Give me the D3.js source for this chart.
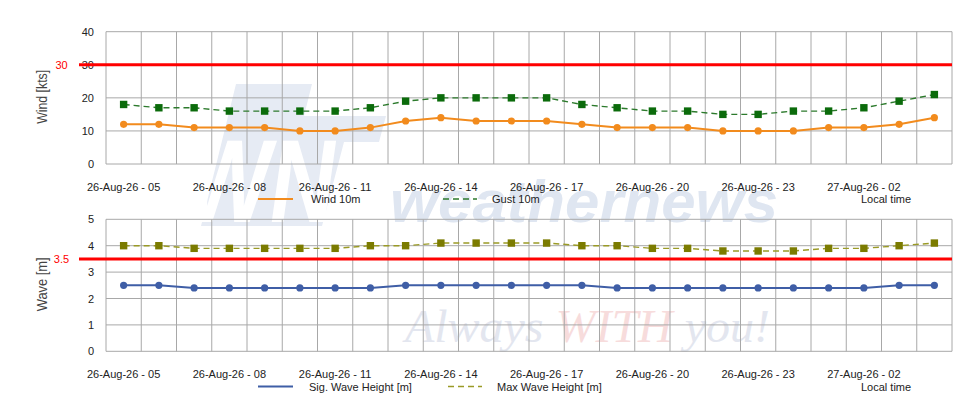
<!DOCTYPE html>
<html>
<head>
<meta charset="utf-8">
<script src="https://cdn.jsdelivr.net/npm/d3@7"></script>
<style>
  body { margin: 0; background: #fff; }
  svg { display: block; font-family: "Liberation Sans", Arial, sans-serif; }
</style>
</head>
<body>
<div id="chart"></div>
<script>
// time axis
var times = ["26-Aug-26 - 05", "26-Aug-26 - 06", "26-Aug-26 - 07", "26-Aug-26 - 08", "26-Aug-26 - 09", "26-Aug-26 - 10",
    "26-Aug-26 - 11", "26-Aug-26 - 12", "26-Aug-26 - 13", "26-Aug-26 - 14", "26-Aug-26 - 15", "26-Aug-26 - 16",
    "26-Aug-26 - 17", "26-Aug-26 - 18", "26-Aug-26 - 19", "26-Aug-26 - 20", "26-Aug-26 - 21", "26-Aug-26 - 22",
    "26-Aug-26 - 23", "27-Aug-26 - 00", "27-Aug-26 - 01", "27-Aug-26 - 02", "27-Aug-26 - 03", "27-Aug-26 - 04"];
var shownTimes = ["26-Aug-26 - 05", "26-Aug-26 - 08", "26-Aug-26 - 11", "26-Aug-26 - 14",
    "26-Aug-26 - 17", "26-Aug-26 - 20", "26-Aug-26 - 23", "27-Aug-26 - 02"];

// wind panel
var wind10m = [12, 12, 11, 11, 11, 10, 10, 11, 13, 14, 13, 13, 13, 12, 11, 11, 11, 10, 10, 10, 11, 11, 12, 14];
var gust10m = [18, 17, 17, 16, 16, 16, 16, 17, 19, 20, 20, 20, 20, 18, 17, 16, 16, 15, 15, 16, 16, 17, 19, 21];
var windTicks = [0, 10, 20, 30, 40];
var windLimit = 30;

// wave panel
var sigWave = [2.5, 2.5, 2.4, 2.4, 2.4, 2.4, 2.4, 2.4, 2.5, 2.5, 2.5, 2.5, 2.5, 2.5, 2.4, 2.4, 2.4, 2.4, 2.4, 2.4, 2.4, 2.4, 2.5, 2.5];
var maxWave = [4.0, 4.0, 3.9, 3.9, 3.9, 3.9, 3.9, 4.0, 4.0, 4.1, 4.1, 4.1, 4.1, 4.0, 4.0, 3.9, 3.9, 3.8, 3.8, 3.8, 3.9, 3.9, 4.0, 4.1];
var waveTicks = [0, 1, 2, 3, 4, 5];
var waveLimit = 3.5;

var w = 980;
var h = 420;

var svg = d3.select('#chart').append("svg")
    .attr("width", w)
    .attr("height", h);

// weathernews watermark, behind everything
var mark = svg.append("g");
mark.append("path")
    .attr("d", "M236,84 L312,84 L304,116 L386,116 L379,142 L344,142 L322,226 L201,226 Z")
    .style("fill", "#e6ebf4");
mark.append("text")
    .attr("x", 212)
    .attr("y", 222)
    .attr("transform", "skewX(-8)")
    .attr("textLength", 150)
    .attr("lengthAdjust", "spacingAndGlyphs")
    .style("font-size", "118px")
    .style("font-weight", "bold")
    .style("fill", "#ffffff")
    .text("WN");
mark.append("text")
    .attr("x", 390)
    .attr("y", 222)
    .attr("textLength", 388)
    .attr("lengthAdjust", "spacingAndGlyphs")
    .style("font-size", "60px")
    .style("font-weight", "bold")
    .style("font-style", "italic")
    .style("fill", "#dfe6f1")
    .text("weathernews");
var slogan = mark.append("text")
    .attr("x", 405)
    .attr("y", 342)
    .attr("textLength", 365)
    .attr("lengthAdjust", "spacingAndGlyphs")
    .style("font-family", "'Liberation Serif', 'DejaVu Serif', serif")
    .style("font-size", "46px")
    .style("font-style", "italic")
    .style("fill", "#e3e6ef");
slogan.append("tspan").text("Always ");
slogan.append("tspan").style("fill", "#f7dcdc").text("WITH");
slogan.append("tspan").text(" you!");

var x = d3.scaleBand()
    .domain(times)
    .range([106, 952])
    .padding(0);

function panel(top, bottom, yMax, ticks, limit, limitLabel, title, solid, dashed, legend) {
    var y = d3.scaleLinear().domain([0, yMax]).range([bottom, top]);
    var g = svg.append("g");

    // grid
    g.selectAll(".hgrid").data(ticks).enter().append("line")
        .attr("x1", 106).attr("x2", 952)
        .attr("y1", function(d) { return y(d); })
        .attr("y2", function(d) { return y(d); })
        .style("stroke", "#a8a8a8").style("stroke-width", 1);
    var edges = times.map(function(t) { return x(t); }).concat([952]);
    g.selectAll(".vgrid").data(edges).enter().append("line")
        .attr("x1", function(d) { return d; })
        .attr("x2", function(d) { return d; })
        .attr("y1", top).attr("y2", bottom)
        .style("stroke", "#a8a8a8").style("stroke-width", 1);

    // y axis labels
    var yAxis = d3.axisLeft(y).tickValues(ticks).tickFormat(d3.format("d")).tickSize(0).tickPadding(12);
    var ya = g.append("g").attr("transform", "translate(106,0)").call(yAxis);
    ya.select(".domain").remove();
    ya.selectAll("text").style("font-size", "11px").style("fill", "#222")
        .style("font-family", "'Liberation Sans', Arial, sans-serif");

    // x axis labels
    var xAxis = d3.axisBottom(x).tickValues(shownTimes).tickSize(0).tickPadding(19);
    var xa = g.append("g").attr("transform", "translate(0," + bottom + ")").call(xAxis);
    xa.select(".domain").remove();
    xa.selectAll("text").style("font-size", "11px").style("fill", "#222")
        .style("font-family", "'Liberation Sans', Arial, sans-serif");

    // limit line
    g.append("line")
        .attr("x1", 79).attr("x2", 952)
        .attr("y1", y(limit)).attr("y2", y(limit))
        .style("stroke", "#ff0000").style("stroke-width", 3);
    g.append("text")
        .attr("x", 61.5)
        .attr("y", y(limit) + 4)
        .style("text-anchor", "middle")
        .style("font-size", "11px")
        .style("fill", "#ff0000")
        .text(limitLabel);

    g.append("text")
        .attr("transform", "translate(47," + ((top + bottom) / 2 - 1) + ") rotate(-90)")
        .attr("textLength", 54)
        .attr("lengthAdjust", "spacingAndGlyphs")
        .style("text-anchor", "middle")
        .style("font-size", "15px")
        .style("fill", "#444")
        .text(title);

    var cx = function(d, i) { return x(times[i]) + x.bandwidth() / 2; };
    var line = d3.line().x(cx).y(function(d) { return y(d); });

    // dashed series with squares
    g.append("path").datum(dashed.values)
        .attr("d", line)
        .style("fill", "none")
        .style("stroke", dashed.line)
        .style("stroke-width", 1.4)
        .style("stroke-dasharray", "6,4");
    g.selectAll(".sq").data(dashed.values).enter().append("rect")
        .attr("x", function(d, i) { return cx(d, i) - 3.7; })
        .attr("y", function(d) { return y(d) - 3.7; })
        .attr("width", 7.4).attr("height", 7.4)
        .style("fill", dashed.color);

    // solid series with dots
    g.append("path").datum(solid.values)
        .attr("d", line)
        .style("fill", "none")
        .style("stroke", solid.color)
        .style("stroke-width", 2);
    g.selectAll(".dot").data(solid.values).enter().append("circle")
        .attr("cx", cx)
        .attr("cy", function(d) { return y(d); })
        .attr("r", 3.6)
        .style("fill", solid.color);

    // legend
    var ly = legend.y;
    g.append("line").attr("x1", 258).attr("x2", 293).attr("y1", ly).attr("y2", ly)
        .style("stroke", solid.color).style("stroke-width", 2);
    g.append("text").attr("x", legend.solidX).attr("y", ly + 4)
        .style("font-size", "11px").style("fill", "#222").text(solid.name);
    g.append("line").attr("x1", legend.dashX).attr("x2", legend.dashX + 34).attr("y1", ly).attr("y2", ly)
        .style("stroke", dashed.line).style("stroke-width", 1.4).style("stroke-dasharray", "6,4");
    g.append("text").attr("x", legend.dashTextX).attr("y", ly + 4)
        .style("font-size", "11px").style("fill", "#222").text(dashed.name);
    g.append("text").attr("x", 861).attr("y", ly + 4)
        .style("font-size", "11px").style("fill", "#222").text("Local time");
}

panel(31.7, 164, 40, windTicks, windLimit, "30", "Wind [kts]",
    {values: wind10m, color: "#f28b1d", name: "Wind 10m"},
    {values: gust10m, color: "#0b6b0b", line: "#2c7a2c", name: "Gust 10m"},
    {y: 199, solidX: 311, dashX: 443, dashTextX: 492});

panel(219.3, 351.3, 5, waveTicks, waveLimit, "3.5", "Wave [m]",
    {values: sigWave, color: "#3f5ea6", name: "Sig. Wave Height [m]"},
    {values: maxWave, color: "#7b7b00", line: "#9a9a26", name: "Max Wave Height [m]"},
    {y: 386.5, solidX: 309, dashX: 448, dashTextX: 497});
</script>
</body>
</html>
